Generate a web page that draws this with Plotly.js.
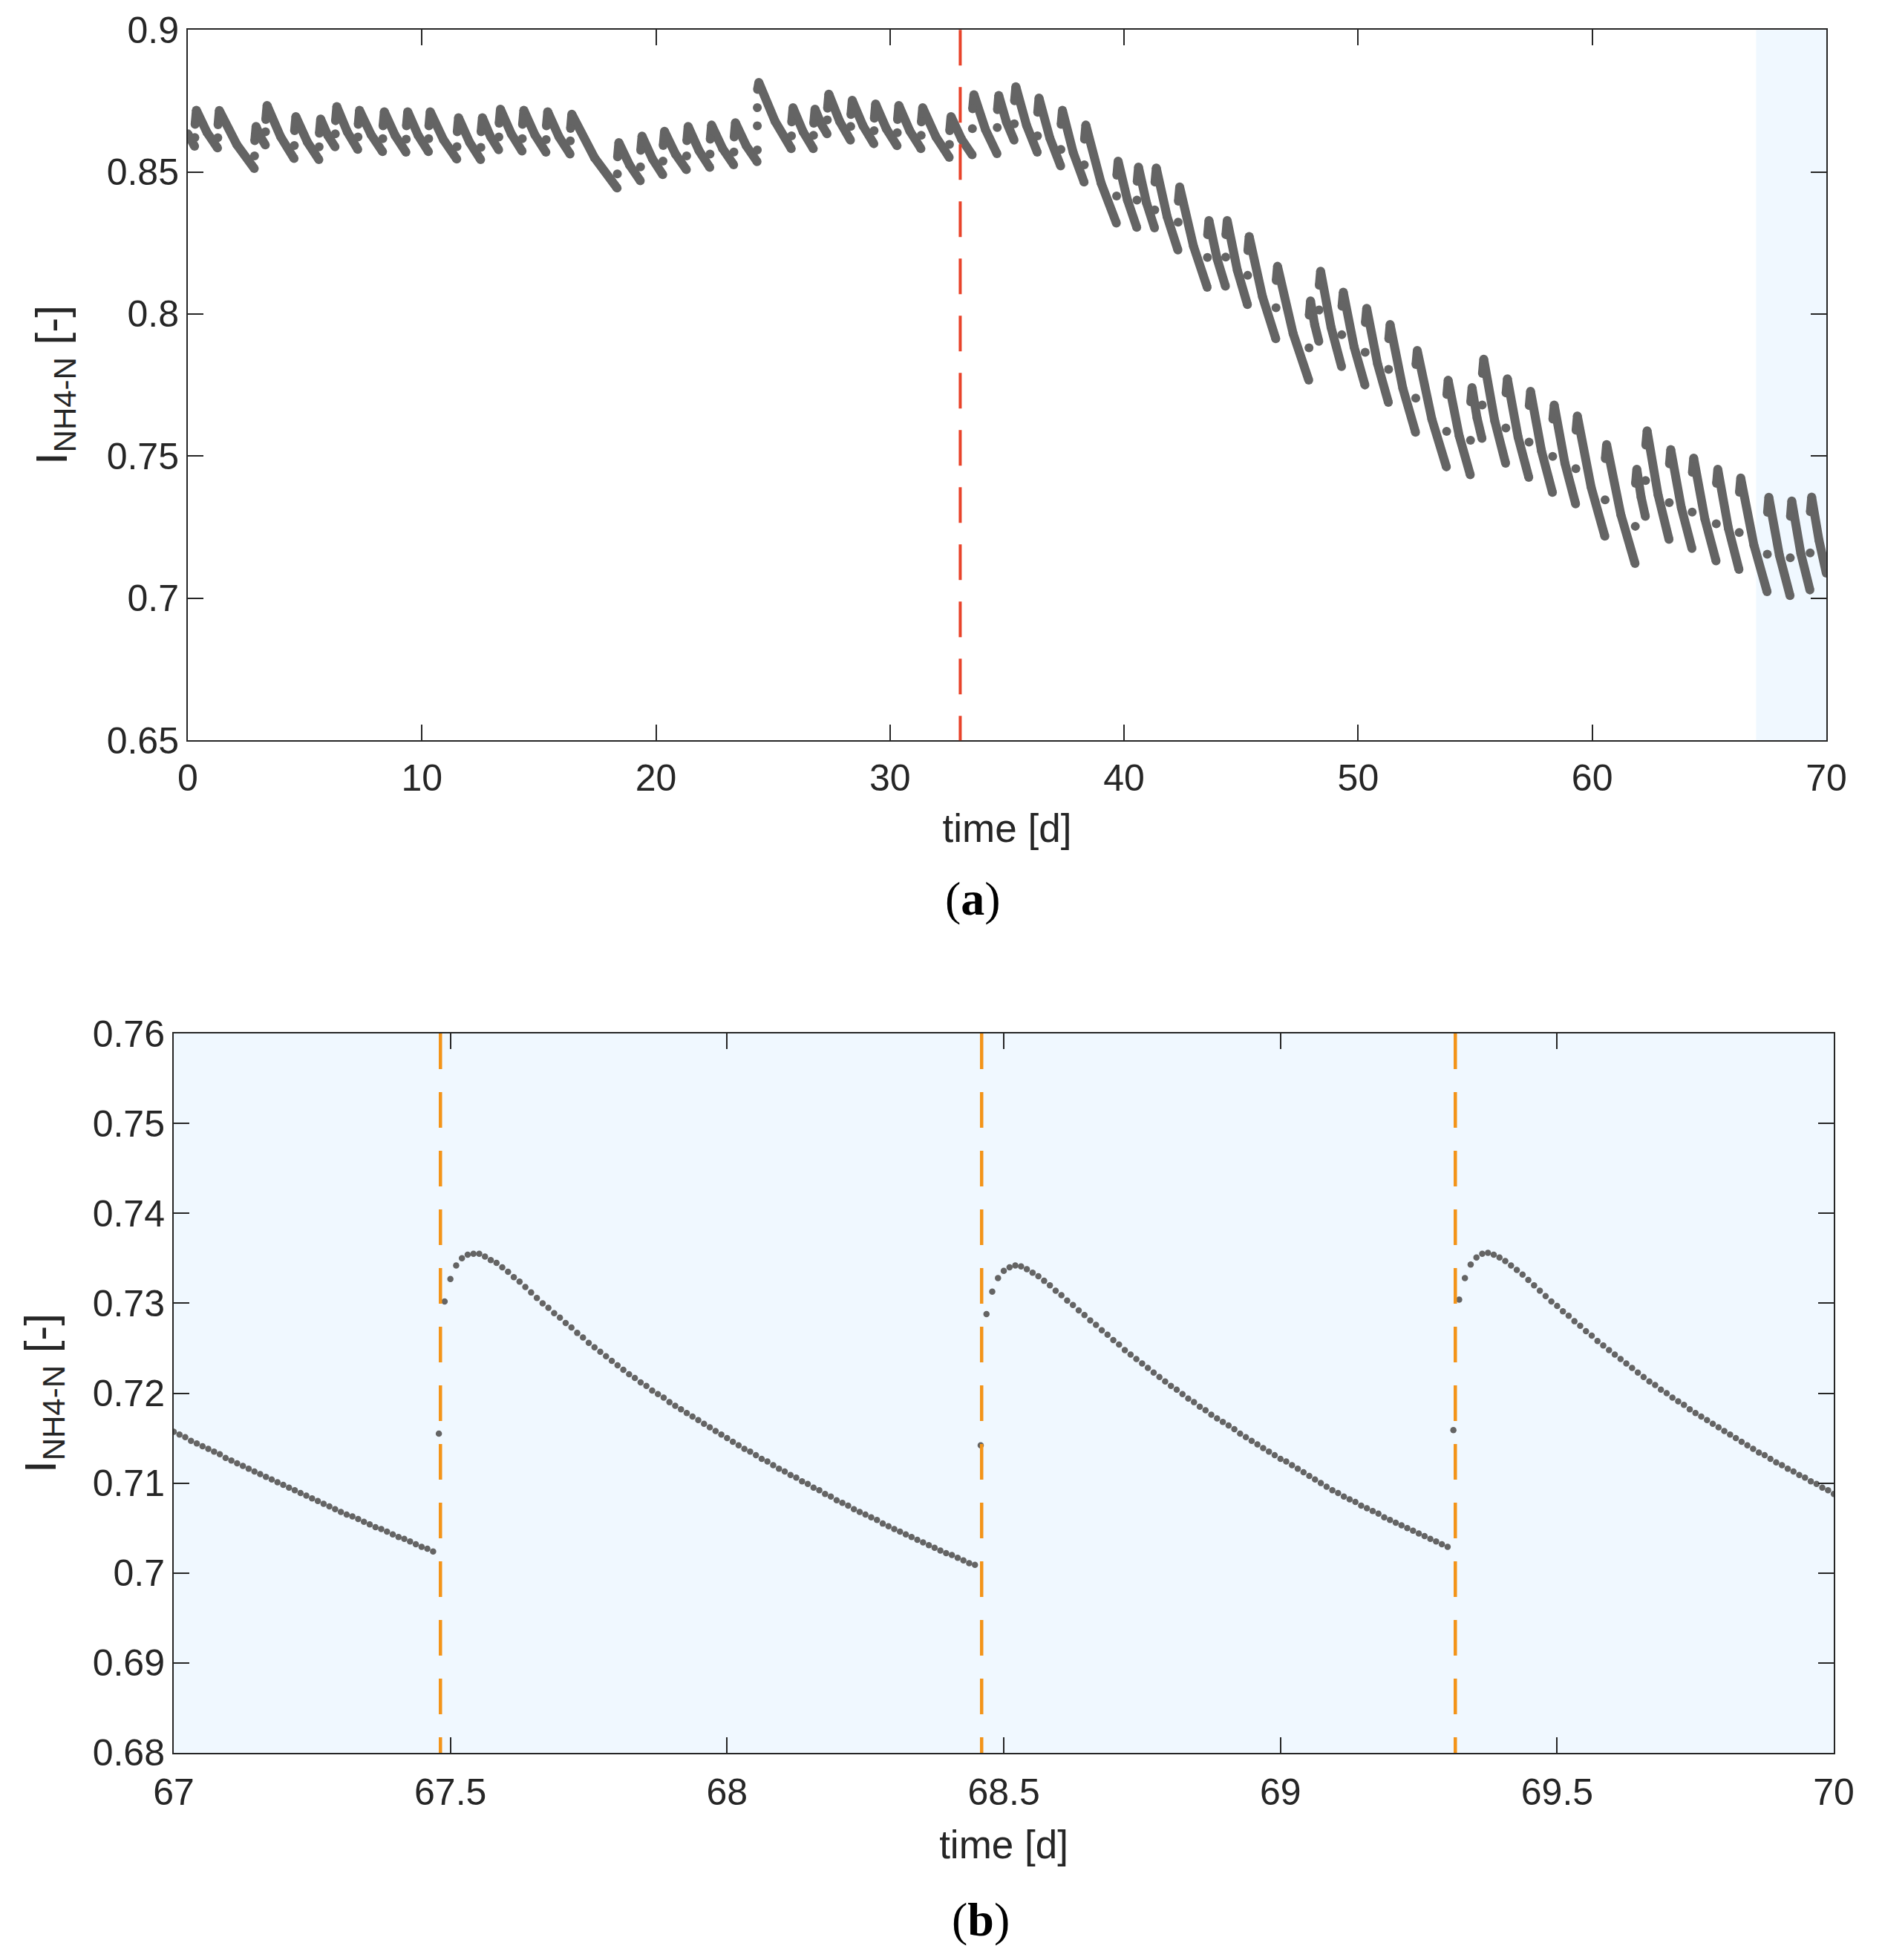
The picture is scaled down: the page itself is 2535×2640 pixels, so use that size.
<!DOCTYPE html>
<html>
<head>
<meta charset="utf-8">
<script src="https://cdn.plot.ly/plotly-3.0.1.min.js"></script>
<style>
  html, body { margin: 0; padding: 0; background: #ffffff; }
  #chart { width: 2535px; height: 2640px; }
</style>
</head>
<body>
<div id="chart"></div>
<script>
// ---------------- Panel (a): 0–70 d, one decay cycle per feeding ----------------
// initial decay before first feeding
const startV = 0.8634;
const startTroughV = 0.8590;
// feeding times (jump points) [d]
const feedT = [0.30, 1.28, 2.85, 3.32, 4.55, 5.61, 6.30, 7.27, 8.33, 9.33,
  10.29, 11.50, 12.52, 13.29, 14.29, 15.31, 16.34, 18.35, 19.34, 20.30,
  21.31, 22.31, 23.33, 24.33, 25.79, 26.73, 27.32, 28.32, 29.32, 30.31,
  31.33, 32.54, 33.52, 34.58, 35.31, 36.30, 37.30, 38.30, 39.68, 40.55,
  41.31, 42.31, 43.56, 44.34, 45.28, 46.49, 47.90, 48.33, 49.30, 50.30,
  51.30, 52.46, 53.78, 54.80, 55.30, 56.31, 57.30, 58.31, 59.30, 60.55,
  61.84, 62.28, 63.29, 64.27, 65.30, 66.28, 67.48, 68.46, 69.31];
// value of the isolated point at each feeding
const jumpV = [0.8621, 0.8620, 0.8556, 0.8641, 0.8593, 0.8588, 0.8634, 0.8623, 0.8617, 0.8615,
  0.8617, 0.8589, 0.8586, 0.8623, 0.8617, 0.8614, 0.8609, 0.8493, 0.8518, 0.8538,
  0.8556, 0.8563, 0.8570, 0.8577, 0.8627, 0.8629, 0.8683, 0.8660, 0.8645, 0.8638,
  0.8629, 0.8597, 0.8652, 0.8656, 0.8669, 0.8627, 0.8579, 0.8525, 0.8415, 0.8401,
  0.8366, 0.8323, 0.8199, 0.8200, 0.8136, 0.8022, 0.7881, 0.8014, 0.7927, 0.7865,
  0.7805, 0.7704, 0.7587, 0.7556, 0.7680, 0.7599, 0.7549, 0.7499, 0.7456, 0.7346,
  0.7253, 0.7414, 0.7336, 0.7303, 0.7262, 0.7231, 0.7155, 0.7142, 0.7159];
// first sample after the jump
const firstV = [0.8667, 0.8666, 0.8610, 0.8684, 0.8645, 0.8636, 0.8680, 0.8667, 0.8662, 0.8662,
  0.8662, 0.8641, 0.8641, 0.8671, 0.8667, 0.8662, 0.8653, 0.8553, 0.8576, 0.8593,
  0.8610, 0.8615, 0.8623, 0.8790, 0.8676, 0.8671, 0.8724, 0.8702, 0.8689, 0.8684,
  0.8676, 0.8645, 0.8722, 0.8719, 0.8750, 0.8710, 0.8667, 0.8615, 0.8488, 0.8467,
  0.8464, 0.8397, 0.8279, 0.8279, 0.8223, 0.8118, 0.7996, 0.8101, 0.8027, 0.7970,
  0.7913, 0.7822, 0.7717, 0.7691, 0.7791, 0.7722, 0.7678, 0.7630, 0.7591, 0.7491,
  0.7404, 0.7539, 0.7473, 0.7443, 0.7404, 0.7373, 0.7302, 0.7288, 0.7304];
// peak of each cycle
const peakV = [0.8717, 0.8716, 0.8660, 0.8734, 0.8695, 0.8686, 0.8730, 0.8717, 0.8712, 0.8712,
  0.8712, 0.8691, 0.8691, 0.8721, 0.8717, 0.8712, 0.8703, 0.8603, 0.8626, 0.8643,
  0.8660, 0.8665, 0.8673, 0.8815, 0.8726, 0.8721, 0.8774, 0.8752, 0.8739, 0.8734,
  0.8726, 0.8695, 0.8772, 0.8769, 0.8800, 0.8760, 0.8717, 0.8665, 0.8538, 0.8517,
  0.8514, 0.8447, 0.8329, 0.8329, 0.8273, 0.8168, 0.8046, 0.8151, 0.8077, 0.8020,
  0.7963, 0.7872, 0.7767, 0.7741, 0.7841, 0.7772, 0.7728, 0.7680, 0.7641, 0.7541,
  0.7454, 0.7589, 0.7523, 0.7493, 0.7454, 0.7423, 0.7355, 0.7342, 0.7356];
// value halfway through each decay
const midV = [0.8639, 0.8596, 0.8622, 0.8624, 0.8605, 0.8628, 0.8641, 0.8631, 0.8628, 0.8629,
  0.8613, 0.8604, 0.8624, 0.8634, 0.8630, 0.8624, 0.8550, 0.8524, 0.8546, 0.8563,
  0.8575, 0.8582, 0.8592, 0.8678, 0.8641, 0.8670, 0.8678, 0.8662, 0.8652, 0.8644,
  0.8623, 0.8615, 0.8649, 0.8676, 0.8664, 0.8619, 0.8568, 0.8461, 0.8401, 0.8391,
  0.8343, 0.8239, 0.8193, 0.8154, 0.8061, 0.7931, 0.7962, 0.7953, 0.7884, 0.7825,
  0.7739, 0.7630, 0.7571, 0.7635, 0.7625, 0.7567, 0.7518, 0.7475, 0.7391, 0.7294,
  0.7356, 0.7364, 0.7318, 0.7279, 0.7246, 0.7187, 0.7151, 0.7157, 0.7204];
// last value before the next feeding (last one: value at 70 d)
const troughV = [0.8584, 0.8512, 0.8595, 0.8547, 0.8543, 0.8588, 0.8579, 0.8571, 0.8569, 0.8571,
  0.8545, 0.8543, 0.8578, 0.8573, 0.8569, 0.8563, 0.8443, 0.8469, 0.8490, 0.8508,
  0.8516, 0.8525, 0.8536, 0.8582, 0.8582, 0.8634, 0.8612, 0.8599, 0.8592, 0.8582,
  0.8551, 0.8560, 0.8564, 0.8612, 0.8569, 0.8521, 0.8464, 0.8320, 0.8305, 0.8303,
  0.8225, 0.8094, 0.8098, 0.8033, 0.7913, 0.7767, 0.7904, 0.7815, 0.7750, 0.7689,
  0.7584, 0.7462, 0.7434, 0.7562, 0.7475, 0.7425, 0.7372, 0.7332, 0.7218, 0.7122,
  0.7288, 0.7207, 0.7175, 0.7131, 0.7101, 0.7023, 0.7009, 0.7029, 0.7088];
// extra intermediate points of the stepwise jump at ~24.3 d
const extraDotT = [24.33, 24.33];
const extraDotV = [0.8662, 0.8726];
// control switch time (red dashed line) and highlighted window
const switchT = [33.0];
const zoomWindow = [67, 70];

// ---------------- Panel (b): 67–70 d, 15-min samples ----------------
const bStartT = 67;
const bStep = 1 / 96;
const bValues = [
  0.7157, 0.7154, 0.7151, 0.7147, 0.7144, 0.7141, 0.7138, 0.7135, 0.7132, 0.7128,
  0.7125, 0.7122, 0.7119, 0.7116, 0.7113, 0.7110, 0.7107, 0.7104, 0.7101, 0.7098,
  0.7095, 0.7092, 0.7089, 0.7086, 0.7083, 0.7080, 0.7077, 0.7074, 0.7071, 0.7068,
  0.7065, 0.7063, 0.7060, 0.7057, 0.7054, 0.7051, 0.7049, 0.7046, 0.7043, 0.7040,
  0.7038, 0.7035, 0.7032, 0.7029, 0.7027, 0.7024,
  0.7155,
  0.7302, 0.7327, 0.7342, 0.7350, 0.7354, 0.7355,
  0.7355, 0.7352, 0.7348, 0.7345, 0.7340, 0.7335, 0.7329, 0.7324, 0.7318, 0.7312,
  0.7306, 0.7300, 0.7295, 0.7289, 0.7284, 0.7278, 0.7273, 0.7267, 0.7262, 0.7256,
  0.7251, 0.7246, 0.7241, 0.7236, 0.7231, 0.7226, 0.7221, 0.7217, 0.7212, 0.7208,
  0.7203, 0.7199, 0.7195, 0.7190, 0.7186, 0.7182, 0.7178, 0.7174, 0.7170, 0.7166,
  0.7162, 0.7158, 0.7154, 0.7150, 0.7146, 0.7142, 0.7138, 0.7135, 0.7131, 0.7127,
  0.7124, 0.7120, 0.7116, 0.7113, 0.7109, 0.7106, 0.7102, 0.7099, 0.7095, 0.7092,
  0.7088, 0.7085, 0.7081, 0.7078, 0.7075, 0.7071, 0.7068, 0.7065, 0.7062, 0.7059,
  0.7055, 0.7052, 0.7049, 0.7046, 0.7043, 0.7040, 0.7037, 0.7034, 0.7031, 0.7028,
  0.7025, 0.7022, 0.7020, 0.7017, 0.7014, 0.7011, 0.7009,
  0.7142,
  0.7288, 0.7313, 0.7328, 0.7336, 0.7340, 0.7342, 0.7341, 0.7338, 0.7334, 0.7330,
  0.7325, 0.7320, 0.7314, 0.7309, 0.7303, 0.7298, 0.7292, 0.7287, 0.7281, 0.7276,
  0.7270, 0.7265, 0.7259, 0.7254, 0.7248, 0.7243, 0.7238, 0.7233, 0.7228, 0.7223,
  0.7218, 0.7213, 0.7208, 0.7204, 0.7199, 0.7194, 0.7190, 0.7185, 0.7181, 0.7176,
  0.7172, 0.7168, 0.7164, 0.7160, 0.7155, 0.7151, 0.7147, 0.7143, 0.7139, 0.7135,
  0.7131, 0.7127, 0.7124, 0.7120, 0.7116, 0.7112, 0.7108, 0.7104, 0.7100, 0.7096,
  0.7092, 0.7089, 0.7085, 0.7082, 0.7079, 0.7075, 0.7072, 0.7069, 0.7066, 0.7062,
  0.7059, 0.7056, 0.7053, 0.7050, 0.7047, 0.7044, 0.7041, 0.7038, 0.7035, 0.7032,
  0.7029,
  0.7159,
  0.7304, 0.7328, 0.7343, 0.7351, 0.7355, 0.7356, 0.7354, 0.7351, 0.7347, 0.7342,
  0.7337, 0.7332, 0.7326, 0.7320, 0.7314, 0.7308, 0.7302, 0.7297, 0.7291, 0.7286,
  0.7280, 0.7275, 0.7269, 0.7264, 0.7258, 0.7253, 0.7248, 0.7243, 0.7238, 0.7233,
  0.7228, 0.7223, 0.7218, 0.7213, 0.7209, 0.7204, 0.7200, 0.7195, 0.7191, 0.7187,
  0.7182, 0.7178, 0.7174, 0.7170, 0.7166, 0.7162, 0.7158, 0.7154, 0.7150, 0.7146,
  0.7142, 0.7138, 0.7134, 0.7131, 0.7127, 0.7123, 0.7120, 0.7116, 0.7113, 0.7109,
  0.7106, 0.7102, 0.7099, 0.7095, 0.7092, 0.7088];
// dosing times (orange dashed lines)
const dosingT = [67.482, 68.460, 69.316];

// ---------------- Axis ticks ----------------
const xTicksA = [0, 10, 20, 30, 40, 50, 60, 70];
const xTickTextA = ['0', '10', '20', '30', '40', '50', '60', '70'];
const yTicksA = [0.65, 0.7, 0.75, 0.8, 0.85, 0.9];
const yTickTextA = ['0.65', '0.7', '0.75', '0.8', '0.85', '0.9'];
const xTicksB = [67, 67.5, 68, 68.5, 69, 69.5, 70];
const xTickTextB = ['67', '67.5', '68', '68.5', '69', '69.5', '70'];
const yTicksB = [0.68, 0.69, 0.70, 0.71, 0.72, 0.73, 0.74, 0.75, 0.76];
const yTickTextB = ['0.68', '0.69', '0.7', '0.71', '0.72', '0.73', '0.74', '0.75', '0.76'];

// ---------------- Build traces ----------------
const GRAY = '#646464';
const tEndA = 70;
const peakLag = 0.065;

const lx = [], ly = [];
lx.push(0, feedT[0] - bStep, null);
ly.push(startV, startTroughV, null);
for (let i = 0; i < feedT.length; i++) {
  const tFirst = feedT[i] + bStep;
  const tPeak = feedT[i] + peakLag;
  const tEnd = (i < feedT.length - 1) ? feedT[i + 1] - bStep : tEndA;
  const tMid = (tPeak + tEnd) / 2;
  lx.push(tFirst, tPeak, tMid, tEnd, null);
  ly.push(firstV[i], peakV[i], midV[i], troughV[i], null);
}

const traceA = {
  type: 'scatter', mode: 'lines+markers', x: lx, y: ly, xaxis: 'x', yaxis: 'y',
  line: { color: GRAY, width: 12 }, marker: { color: GRAY, size: 12 },
  connectgaps: false, hoverinfo: 'x+y', showlegend: false
};
const traceAJumps = {
  type: 'scatter', mode: 'markers',
  x: feedT.concat(extraDotT), y: jumpV.concat(extraDotV),
  xaxis: 'x', yaxis: 'y', marker: { color: GRAY, size: 12 }, showlegend: false
};
const traceB = {
  type: 'scatter', mode: 'markers', x0: bStartT, dx: bStep, y: bValues,
  xaxis: 'x2', yaxis: 'y2', marker: { color: GRAY, size: 8.5 }, showlegend: false
};

// ---------------- Layout ----------------
const FONT = 'Liberation Sans, Arial, Helvetica, sans-serif';
const AX = '#262626';
function axis(extra) {
  return Object.assign({
    showline: true, linecolor: AX, linewidth: 2, mirror: 'ticks',
    ticks: 'inside', ticklen: 21, tickwidth: 2, tickcolor: AX,
    showgrid: false, zeroline: false, tickmode: 'array',
    tickfont: { family: FONT, size: 50, color: AX }
  }, extra);
}

const shapes = [];
// highlighted window in panel (a)
shapes.push({ type: 'rect', xref: 'x', yref: 'y domain', x0: zoomWindow[0], x1: zoomWindow[1],
  y0: 0, y1: 1, fillcolor: '#F0F8FF', line: { width: 0 }, layer: 'below' });
// full background of panel (b)
shapes.push({ type: 'rect', xref: 'x2 domain', yref: 'y2 domain', x0: 0, x1: 1,
  y0: 0, y1: 1, fillcolor: '#F0F8FF', line: { width: 0 }, layer: 'below' });
switchT.forEach(t => shapes.push({ type: 'line', xref: 'x', yref: 'y domain', x0: t, x1: t,
  y0: 1, y1: 0, line: { color: '#E8432A', width: 4, dash: '48px,29px' }, layer: 'above' }));
dosingT.forEach(t => shapes.push({ type: 'line', xref: 'x2', yref: 'y2 domain', x0: t, x1: t,
  y0: 1, y1: 0, line: { color: '#F39419', width: 4.5, dash: '48px,31px' }, layer: 'above' }));

const layout = {
  width: 2535, height: 2640,
  margin: { l: 0, r: 0, t: 0, b: 0 },
  paper_bgcolor: '#ffffff', plot_bgcolor: 'rgba(0,0,0,0)',
  showlegend: false,
  font: { family: FONT, color: AX },
  xaxis: axis({ domain: [0.0998, 0.9704], anchor: 'y', range: [0, 70],
    tickvals: xTicksA, ticktext: xTickTextA, ticklabelstandoff: 6,
    title: { text: 'time [d]', font: { family: FONT, size: 53, color: AX }, standoff: 22 } }),
  yaxis: axis({ domain: [0.6223, 0.9848], anchor: 'x', range: [0.65, 0.9],
    tickvals: yTicksA, ticktext: yTickTextA,
    title: { text: 'I<sub>NH4-N</sub> [-]', font: { family: FONT, size: 60, color: AX }, standoff: 34 } }),
  xaxis2: axis({ domain: [0.0923, 0.9744], anchor: 'y2', range: [67, 70],
    tickvals: xTicksB, ticktext: xTickTextB, ticklabelstandoff: 8,
    title: { text: 'time [d]', font: { family: FONT, size: 53, color: AX }, standoff: 25 } }),
  yaxis2: axis({ domain: [0.1057, 0.4727], anchor: 'x2', range: [0.68, 0.76],
    tickvals: yTicksB, ticktext: yTickTextB,
    title: { text: 'I<sub>NH4-N</sub> [-]', font: { family: FONT, size: 60, color: AX }, standoff: 30 } }),
  shapes: shapes,
  annotations: [
    { text: '(<b>a</b>)', xref: 'paper', yref: 'paper', x: 0.517, y: 0.5415,
      xanchor: 'center', yanchor: 'middle', showarrow: false,
      font: { family: 'Liberation Serif, DejaVu Serif, serif', size: 64, color: '#000000' } },
    { text: '(<b>b</b>)', xref: 'paper', yref: 'paper', x: 0.521, y: 0.0205,
      xanchor: 'center', yanchor: 'middle', showarrow: false,
      font: { family: 'Liberation Serif, DejaVu Serif, serif', size: 64, color: '#000000' } }
  ]
};

Plotly.newPlot('chart', [traceA, traceAJumps, traceB], layout, { staticPlot: true, displayModeBar: false });
</script>
</body>
</html>
